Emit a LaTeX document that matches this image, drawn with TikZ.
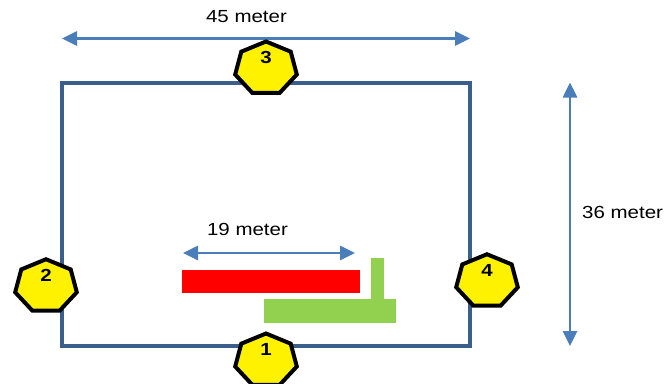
\documentclass[tikz,border=0pt]{standalone}
\usepackage{fontspec}
\setmainfont{Liberation Sans}[FakeStretch=1.17]
\usetikzlibrary{arrows.meta, positioning}
\definecolor{fieldblue}{RGB}{58,95,139}
\definecolor{arrowblue}{RGB}{74,126,187}
\definecolor{barred}{RGB}{255,0,0}
\definecolor{bargreen}{RGB}{146,208,80}

\begin{document}
\begin{tikzpicture}[x=1pt, y=-1pt,
	font=\fontsize{17.5}{21}\selectfont,
	field/.style = {draw=fieldblue, line width=4pt, minimum width=408pt, minimum height=263.5pt, inner sep=0pt, outer sep=0pt},
	dim/.style = {draw=arrowblue, line width=2.6pt, >={Triangle[length=15pt,width=14pt]}, <->},
	hept/.style = {draw=black, fill=yellow, line width=4pt, xscale=1.17},
	num/.style = {font=\fontsize{17.5}{21}\selectfont\bfseries, inner sep=0pt},
	bar/.style = {inner sep=0pt, outer sep=0pt},
	lbl/.style = {inner sep=0pt},
	st++/.style = {yshift=44pt},
	sr++/.style = {xshift=100pt},
	sb+/.style = {xshift=1pt,yshift=17pt},
	sb-/.style = {xshift=-5pt,yshift=17pt},
	sn+/.style = {yshift=14pt},
	ss-/.style = {yshift=-14.5pt},
	sw-/.style = {xshift=-16pt,yshift=-72pt},
	se+/.style = {xshift=17pt,yshift=-67pt}
     ]
		\useasboundingbox (0,0) rectangle (669,383);
		\node[field] (field) at (266,214.25) {};
%
		\node[bar, fill=barred, minimum width=178pt, minimum height=23pt] (rbar) at (271,281.5) {};
		\node[bar, fill=bargreen, minimum width=13pt, minimum height=42pt] (gpost) at (377.5,279) {};
		\node[bar, fill=bargreen, minimum width=132pt, minimum height=24pt] (gbase) at (330,311) {};
%
		\draw[dim] ([st++] field.north west) -- ([st++] field.north east);
		\node[lbl] (l45) at (246.5,17) {45 meter};
%
		\draw[dim] ([sr++] field.north east) -- ([sr++] field.south east);
		\node[lbl, anchor=west] (l36) at (582,212) {36 meter};
%
		\draw[dim] ([sb+] rbar.north west) -- ([sb-] rbar.north east);
		\node[lbl] (l19) at (247.5,229) {19 meter};
%
		\coordinate (h1) at ([ss-] field.south);
		\coordinate (h2) at ([sw-] field.west);
		\coordinate (h3) at ([sn+] field.north);
		\coordinate (h4) at ([se+] field.east);
		\foreach \h in {1,...,4} {
			\draw[shift={(h\h)}, hept] (90:27pt) \foreach \k in {1,...,6} {-- (90+\k*360/7:27pt)} -- cycle;
			\node[num] (n\h) at ([yshift=11pt] h\h) {\h};
		}
\end{tikzpicture}
\end{document}
